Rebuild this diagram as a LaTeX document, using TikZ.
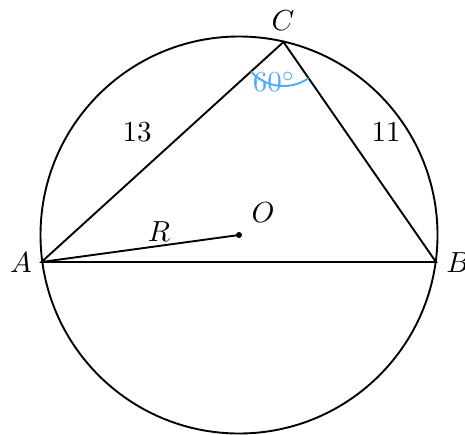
\documentclass[tikz,border=0pt]{standalone}
\usetikzlibrary{calc}
\definecolor{angblue}{RGB}{80,170,250}
\begin{document}
\begin{tikzpicture}[x=1pt,y=-1pt,line width=1.9pt,
  lbl/.style={inner sep=0pt,scale=2.9},
  seg/.style={draw=black,line width=1.9pt}]
\useasboundingbox (0,0) rectangle (465,434);
\coordinate (O) at (239,235);
\coordinate (A) at (41.5,262);
\coordinate (B) at (436,262);
\coordinate (C) at (283.5,42);
\draw (O) circle[radius=198.5];
\draw[seg] (A) -- (B) -- (C) -- cycle;
\draw[seg] (A) -- (O);
\fill (O) circle[radius=3];
\draw[angblue,line width=1.9pt] ($(C)+(137.7:44)$) arc[start angle=137.7,end angle=55.3,radius=44];
\node[lbl] (lC) at (283,21) {$C$};
\node[lbl] (lA) at (21,263) {$A$};
\node[lbl] (lB) at (458,263) {$B$};
\node[lbl] (lO) at (263,213) {$O$};
\node[lbl] (lR) at (159,232) {$R$};
\node[lbl] (l13) at (137,132) {$13$};
\node[lbl] (l11) at (386,132) {$11$};
\node[lbl,text=angblue] (l60) at (274,82) {$60^\circ$};
\end{tikzpicture}
\end{document}
